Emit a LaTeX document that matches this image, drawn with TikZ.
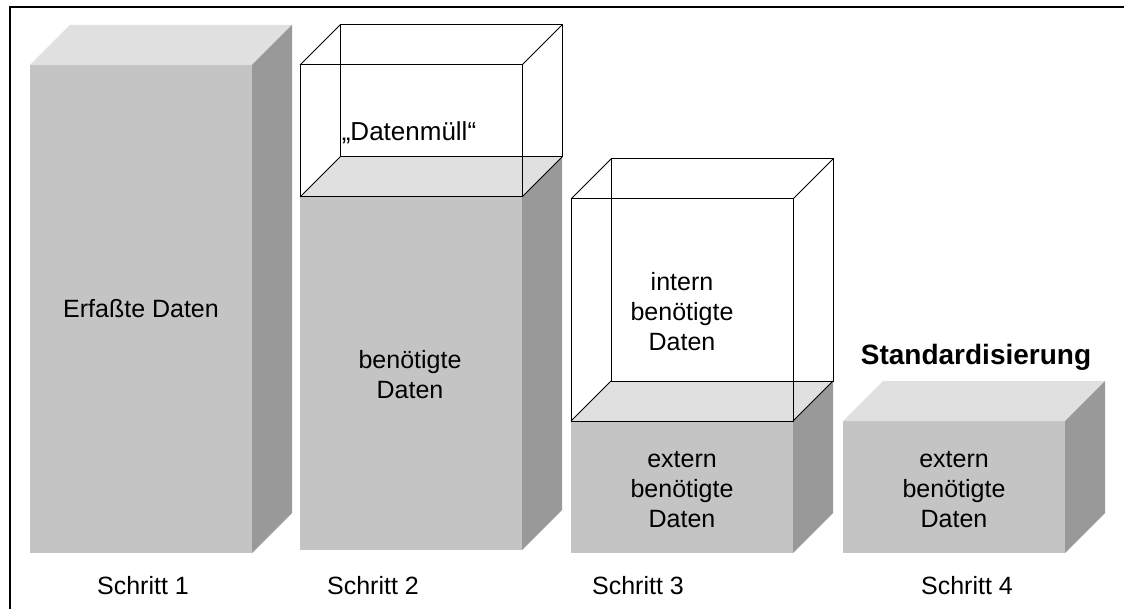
\documentclass[tikz,border=0pt]{standalone}
\usepackage{fontspec}
\setmainfont{Liberation Sans}
\definecolor{frontgray}{HTML}{C4C4C4}
\definecolor{topgray}{HTML}{E0E0E0}
\definecolor{sidegray}{HTML}{999999}

\begin{document}
\begin{tikzpicture}[x=1pt,y=-1pt,
    lab/.style={align=center,font=\fontsize{25}{30}\selectfont},
    steplab/.style={font=\fontsize{25}{30}\selectfont},
    wire/.style={line width=1pt}]
  \useasboundingbox (0,0) rectangle (1124,609);
  \draw[line width=2pt] (10,609) -- (10,7) -- (1124,7);
  % grey blocks: left edge, top and bottom of the front face
  \foreach \xl/\yt/\yb in {30/65/553,300/197/550,571/421/553,843/421/553} {
    \fill[frontgray] (\xl,\yt) rectangle (\xl+222,\yb);
    \fill[topgray] (\xl,\yt) -- ++(40,-40) -- ++(222,0) -- ++(-40,40) -- cycle;
    \fill[sidegray] (\xl+222,\yt) -- ++(40,-40) -- (\xl+262,\yb-40) -- (\xl+222,\yb) -- cycle;
  }
  % empty glass boxes on top of blocks 2 and 3
  \foreach \xl/\yt/\yb in {300/65/197,571/199/421} {
    \draw[wire] (\xl,\yt) rectangle (\xl+222,\yb);
    \draw[wire] (\xl+40,\yt-40) rectangle (\xl+262,\yb-40);
    \draw[wire] (\xl,\yt) -- ++(40,-40) (\xl+222,\yt) -- ++(40,-40)
      (\xl,\yb) -- ++(40,-40) (\xl+222,\yb) -- ++(40,-40);
  }
  \node[lab] (erfasst) at (141,309) {Erfaßte Daten};
  \node[lab,font=\fontsize{26}{30}\selectfont] (muell) at (409,133) {„Datenmüll“};
  \node[lab] (benoetigt) at (410,375) {benötigte\\Daten};
  \node[lab] (intern) at (682,312) {intern\\benötigte\\Daten};
  \node[lab] (extern3) at (682,490) {extern\\benötigte\\Daten};
  \node[lab] (extern4) at (954,490) {extern\\benötigte\\Daten};
  \node[lab,font=\fontsize{28}{30}\selectfont\bfseries] (standard) at (976,357) {Standardisierung};
  \foreach \x/\n in {143/1,373/2,638/3,967/4}
    \node[steplab] (schritt\n) at (\x,586) {Schritt \n};
\end{tikzpicture}
\end{document}
